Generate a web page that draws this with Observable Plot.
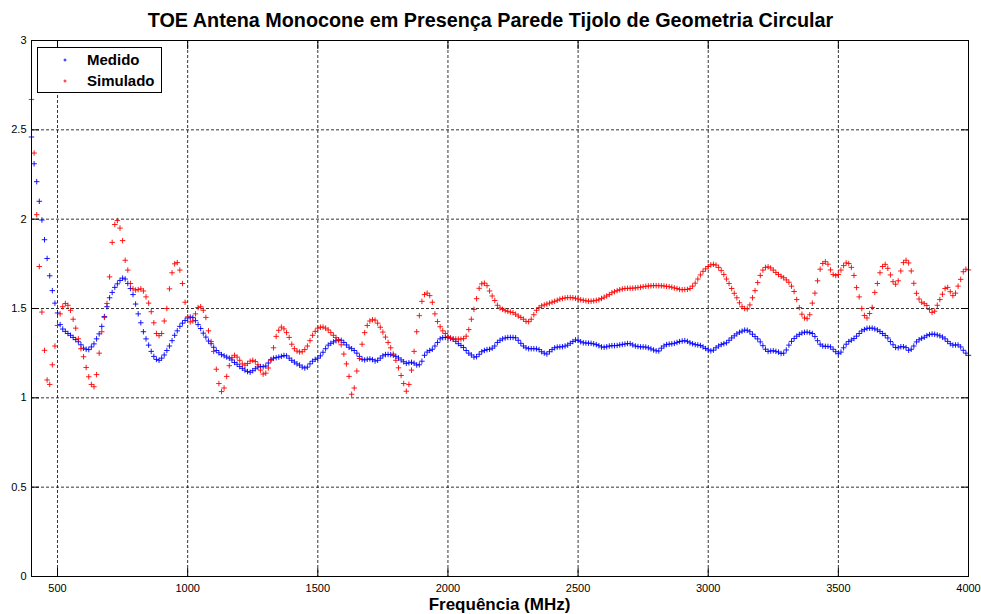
<!DOCTYPE html>
<html><head><meta charset="utf-8">
<script src="https://cdn.jsdelivr.net/npm/d3@7"></script>
<script src="https://cdn.jsdelivr.net/npm/@observablehq/plot@0.6"></script>
<style>
body{margin:0;background:#fff;}
#wrap{position:relative;width:981px;height:614px;font-family:"Liberation Sans",Arial,sans-serif;color:#000;overflow:hidden;}
#title{position:absolute;left:0;top:9px;width:981px;text-align:center;font-weight:bold;font-size:19.8px;line-height:22px;white-space:nowrap;}
#xlabel{position:absolute;left:31px;width:937px;top:595px;text-align:center;font-weight:bold;font-size:17px;line-height:19px;}
#legend{position:absolute;left:37px;top:47px;width:123px;height:44px;border:1px solid #000;background:#fff;}
.lrow{position:absolute;left:0;height:20px;line-height:20px;font-weight:bold;font-size:15px;}
.lrow svg{position:absolute;left:23px;top:6px;}
.lrow span{position:absolute;left:49px;top:0;white-space:nowrap;}
</style>
</head><body>
<div id="wrap">
  <div id="chart"></div>
  <div id="title">TOE Antena Monocone em Presença Parede Tijolo de Geometria Circular</div>
  <div id="xlabel">Frequência (MHz)</div>
  <div id="legend"></div>
</div>
<script>
const freqStart = 400;
const freqStep = 10;
const seriesNames = ["Medido", "Simulado"];
const seriesColors = ["#0000ff", "#ff0000"];
const xTicks = [500, 1000, 1500, 2000, 2500, 3000, 3500, 4000];
const yTicks = [0, 0.5, 1, 1.5, 2, 2.5, 3];

const medido = [
2.46, 2.31, 2.21, 2.10, 1.995, 1.885, 1.78, 1.683, 1.60, 1.53,
1.475, 1.41, 1.385, 1.372, 1.36, 1.35, 1.338, 1.326, 1.314, 1.297,
1.278, 1.272, 1.27, 1.285, 1.302, 1.33, 1.358, 1.40, 1.455, 1.51,
1.56, 1.59, 1.618, 1.638, 1.657, 1.67, 1.665, 1.64, 1.612, 1.578,
1.525, 1.47, 1.42, 1.37, 1.33, 1.295, 1.26, 1.232, 1.215, 1.21,
1.222, 1.24, 1.265, 1.29, 1.32, 1.35, 1.375, 1.40, 1.418, 1.433,
1.447, 1.452, 1.449, 1.432, 1.41, 1.388, 1.362, 1.34, 1.318, 1.303,
1.283, 1.265, 1.252, 1.242, 1.235, 1.228, 1.222, 1.212, 1.198, 1.188,
1.175, 1.165, 1.155, 1.147, 1.143, 1.152, 1.163, 1.172, 1.175, 1.174,
1.178, 1.195, 1.215, 1.222, 1.225, 1.228, 1.232, 1.237, 1.235, 1.222,
1.21, 1.2, 1.19, 1.183, 1.172, 1.167, 1.172, 1.19, 1.205, 1.215,
1.222, 1.235, 1.255, 1.275, 1.295, 1.305, 1.313, 1.32, 1.325, 1.322,
1.31, 1.296, 1.283, 1.275, 1.265, 1.25, 1.232, 1.216, 1.212, 1.216,
1.218, 1.214, 1.206, 1.21, 1.222, 1.235, 1.242, 1.243, 1.242, 1.238,
1.232, 1.223, 1.212, 1.202, 1.193, 1.196, 1.199, 1.194, 1.184, 1.185,
1.205, 1.238, 1.256, 1.265, 1.272, 1.29, 1.31, 1.33, 1.337, 1.338,
1.337, 1.333, 1.328, 1.316, 1.303, 1.293, 1.282, 1.265, 1.25, 1.24,
1.228, 1.23, 1.244, 1.258, 1.265, 1.27, 1.272, 1.278, 1.29, 1.31,
1.322, 1.33, 1.335, 1.338, 1.338, 1.338, 1.336, 1.322, 1.305, 1.29,
1.28, 1.275, 1.275, 1.275, 1.274, 1.27, 1.258, 1.25, 1.245, 1.258,
1.27, 1.28, 1.284, 1.285, 1.286, 1.29, 1.295, 1.305, 1.315, 1.324,
1.322, 1.314, 1.308, 1.307, 1.306, 1.305, 1.302, 1.298, 1.292, 1.285,
1.283, 1.286, 1.29, 1.292, 1.292, 1.293, 1.296, 1.299, 1.301, 1.304,
1.303, 1.296, 1.29, 1.287, 1.285, 1.285, 1.284, 1.28, 1.274, 1.268,
1.263, 1.262, 1.278, 1.29, 1.298, 1.301, 1.302, 1.305, 1.31, 1.315,
1.318, 1.32, 1.316, 1.308, 1.303, 1.298, 1.296, 1.293, 1.285, 1.276,
1.268, 1.263, 1.267, 1.28, 1.29, 1.298, 1.303, 1.308, 1.322, 1.335,
1.347, 1.358, 1.367, 1.373, 1.379, 1.378, 1.37, 1.356, 1.343, 1.33,
1.313, 1.292, 1.272, 1.26, 1.262, 1.264, 1.26, 1.256, 1.248, 1.25,
1.268, 1.295, 1.316, 1.332, 1.345, 1.355, 1.363, 1.367, 1.368, 1.365,
1.36, 1.343, 1.32, 1.3, 1.29, 1.288, 1.288, 1.285, 1.272, 1.258,
1.247, 1.256, 1.28, 1.3, 1.315, 1.323, 1.332, 1.345, 1.36, 1.374,
1.382, 1.389, 1.39, 1.39, 1.386, 1.38, 1.371, 1.36, 1.349, 1.335,
1.315, 1.297, 1.282, 1.28, 1.286, 1.286, 1.281, 1.266, 1.272, 1.29,
1.313, 1.325, 1.333, 1.339, 1.348, 1.354, 1.357, 1.356, 1.352, 1.347,
1.34, 1.33, 1.316, 1.303, 1.295, 1.296, 1.296, 1.285, 1.266, 1.25,
1.238
];

const simulado = [
2.67, 2.37, 2.025, 1.735, 1.48, 1.266, 1.10, 1.075, 1.185, 1.29,
1.405, 1.47, 1.51, 1.528, 1.518, 1.49, 1.44, 1.39, 1.33, 1.275,
1.23, 1.17, 1.118, 1.075, 1.062, 1.13, 1.25, 1.37, 1.45, 1.528,
1.677, 1.87, 1.97, 1.992, 1.95, 1.88, 1.77, 1.715, 1.64, 1.61,
1.603, 1.606, 1.61, 1.598, 1.565, 1.53, 1.482, 1.42, 1.36, 1.348,
1.36, 1.43, 1.50, 1.61, 1.70, 1.75, 1.757, 1.715, 1.64, 1.535,
1.453, 1.425, 1.43, 1.47, 1.505, 1.51, 1.49, 1.45, 1.375, 1.315,
1.26, 1.16, 1.08, 1.035, 1.055, 1.12, 1.18, 1.225, 1.238, 1.228,
1.21, 1.19, 1.183, 1.192, 1.205, 1.21, 1.203, 1.185, 1.155, 1.133,
1.138, 1.167, 1.21, 1.28, 1.344, 1.378, 1.396, 1.386, 1.365, 1.338,
1.30, 1.275, 1.262, 1.257, 1.258, 1.27, 1.29, 1.32, 1.35, 1.372,
1.39, 1.395, 1.396, 1.39, 1.38, 1.365, 1.35, 1.337, 1.32, 1.297,
1.245, 1.19, 1.12, 1.02, 1.055, 1.15, 1.22, 1.30, 1.365, 1.405,
1.43, 1.437, 1.435, 1.418, 1.395, 1.368, 1.34, 1.31, 1.28, 1.245,
1.21, 1.168, 1.125, 1.08, 1.037, 1.075, 1.155, 1.26, 1.37, 1.46,
1.54, 1.578, 1.586, 1.572, 1.535, 1.47, 1.427, 1.398, 1.375, 1.36,
1.343, 1.335, 1.329, 1.329, 1.329, 1.329, 1.331, 1.345, 1.382, 1.44,
1.495, 1.555, 1.613, 1.638, 1.642, 1.628, 1.598, 1.57, 1.545, 1.518,
1.503, 1.495, 1.488, 1.484, 1.48, 1.477, 1.468, 1.458, 1.45, 1.44,
1.428, 1.426, 1.44, 1.465, 1.49, 1.505, 1.515, 1.52, 1.525, 1.53,
1.535, 1.54, 1.546, 1.552, 1.556, 1.559, 1.561, 1.561, 1.56, 1.557,
1.553, 1.549, 1.546, 1.543, 1.541, 1.541, 1.543, 1.546, 1.549, 1.556,
1.563, 1.57, 1.578, 1.588, 1.594, 1.6, 1.605, 1.609, 1.612, 1.613,
1.613, 1.614, 1.615, 1.617, 1.619, 1.622, 1.624, 1.626, 1.627, 1.628,
1.628, 1.628, 1.627, 1.626, 1.624, 1.622, 1.619, 1.615, 1.612, 1.607,
1.605, 1.606, 1.607, 1.612, 1.625, 1.642, 1.665, 1.688, 1.708, 1.722,
1.735, 1.744, 1.747, 1.743, 1.73, 1.712, 1.69, 1.665, 1.64, 1.612,
1.585, 1.56, 1.532, 1.51, 1.5, 1.498, 1.52, 1.56, 1.6, 1.645,
1.685, 1.715, 1.73, 1.733, 1.727, 1.715, 1.701, 1.69, 1.68, 1.672,
1.66, 1.647, 1.625, 1.595, 1.55, 1.505, 1.468, 1.447, 1.443, 1.465,
1.53, 1.586, 1.655, 1.72, 1.752, 1.762, 1.748, 1.716, 1.69, 1.684,
1.69, 1.715, 1.74, 1.755, 1.752, 1.73, 1.685, 1.617, 1.565, 1.5,
1.461, 1.447, 1.472, 1.506, 1.59, 1.64, 1.7, 1.735, 1.747, 1.725,
1.688, 1.65, 1.636, 1.655, 1.71, 1.757, 1.77, 1.755, 1.71, 1.641,
1.585, 1.553, 1.535, 1.527, 1.517, 1.495, 1.478, 1.485, 1.518, 1.55,
1.58, 1.612, 1.618, 1.594, 1.572, 1.586, 1.625, 1.663, 1.706, 1.72,
1.716
];

const toRows = (vals, name) => vals.map((v, i) => ({f: freqStart + i * freqStep, v, serie: name}));
const rowsMedido = toRows(medido, seriesNames[0]);
const rowsSimulado = toRows(simulado, seriesNames[1]);

const gridStyle = {stroke: "#000", strokeOpacity: 0.8, strokeDasharray: "3,2", strokeWidth: 1};

const chart = Plot.plot({
  width: 981,
  height: 614,
  marginLeft: 31,
  marginRight: 13,
  marginTop: 40,
  marginBottom: 38,
  style: {fontFamily: "'Liberation Sans', Arial, sans-serif", fontSize: "11px", color: "#000", background: "transparent", overflow: "visible"},
  x: {domain: [400, 4000]},
  y: {domain: [0, 3]},
  marks: [
    Plot.gridX(xTicks.filter(d => d < 4000), gridStyle),
    Plot.gridY(yTicks.filter(d => d > 0 && d < 3), gridStyle),
    Plot.axisX(xTicks, {anchor: "bottom", tickSize: 0, tickPadding: 8, label: null, tickFormat: d => String(d)}),
    Plot.axisY(yTicks, {anchor: "left", tickSize: 0, tickPadding: 5, label: null, tickFormat: d => String(d)}),
    Plot.axisX(xTicks, {anchor: "bottom", tickSize: -8, tickFormat: () => "", label: null}),
    Plot.axisX(xTicks, {anchor: "top", tickSize: -8, tickFormat: () => "", label: null}),
    Plot.axisY(yTicks, {anchor: "left", tickSize: -8, tickFormat: () => "", label: null}),
    Plot.axisY(yTicks, {anchor: "right", tickSize: -8, tickFormat: () => "", label: null}),
    Plot.dot(rowsMedido, {x: "f", y: "v", symbol: "plus", r: 1.9, stroke: seriesColors[0], strokeWidth: 0.9}),
    Plot.dot(rowsSimulado, {x: "f", y: "v", symbol: "plus", r: 1.9, stroke: seriesColors[1], strokeWidth: 0.9}),
    Plot.frame({stroke: "#000", strokeWidth: 1})
  ]
});
document.getElementById("chart").appendChild(chart);

// legend
const legend = document.getElementById("legend");
seriesNames.forEach((name, i) => {
  const row = document.createElement("div");
  row.className = "lrow";
  row.style.top = (2 + i * 21) + "px";
  row.style.width = "123px";
  row.innerHTML = `<svg width="8" height="8" viewBox="-4 -4 8 8"><path d="M-1.5,0H1.5M0,-1.5V1.5" stroke="${seriesColors[i]}" stroke-width="0.9"/></svg><span>${name}</span>`;
  legend.appendChild(row);
});
</script>
</body></html>
